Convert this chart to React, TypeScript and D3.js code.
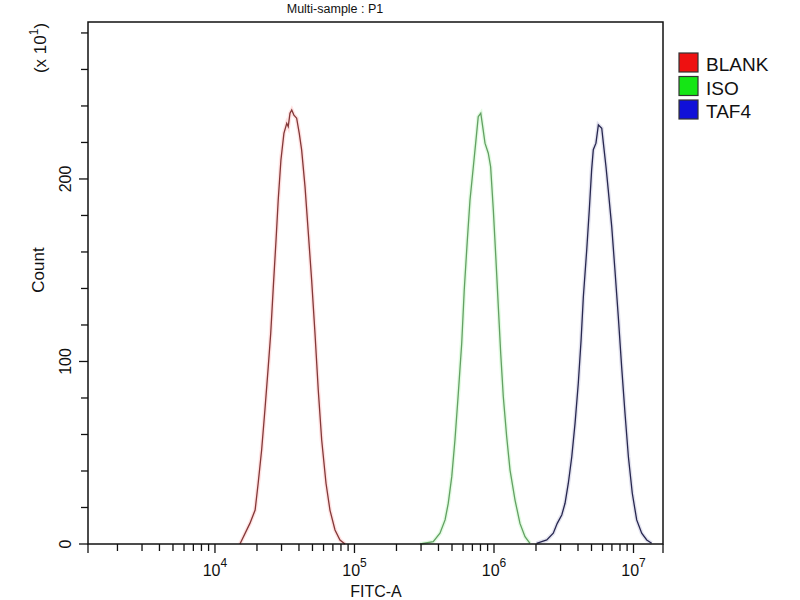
import React from "react";
import * as d3 from "d3";

// ---- Data ----
const seriesNames = ["BLANK", "ISO", "TAF4"];

const blankX = [15100, 17800, 19400, 20400, 21600, 22800, 24100, 25100, 26200, 27400, 28400, 29700, 31200, 32700, 33500, 34500, 35500, 36800, 38500, 40200, 41800, 44200, 46700, 49300, 52100, 55000, 58200, 62500, 66700, 72500, 78700, 85500];
const blankCount = [0, 11.3, 18.6, 33.3, 51.5, 73.4, 97.2, 115.5, 141, 166.6, 188.5, 210.4, 225, 230.5, 228.7, 236, 237.8, 235, 233.3, 225, 215.9, 195.8, 170.2, 144.7, 115.5, 84.4, 57, 33.3, 18.6, 7.7, 2.2, 0];

const isoX = [295000, 367000, 410000, 446000, 470000, 498000, 525000, 555000, 587000, 612000, 644000, 673000, 711000, 743000, 771000, 804000, 830000, 862000, 910000, 946000, 989000, 1033000, 1074000, 1117000, 1166000, 1233000, 1303000, 1415000, 1535000, 1668000, 1811000];
const isoCount = [0, 1.3, 5.9, 13.2, 22.3, 36.9, 57, 82.6, 110, 139.2, 166.6, 188.5, 206.7, 221.4, 234.1, 236, 228.7, 219.6, 214.1, 206.7, 183, 155.6, 130, 104.5, 80.7, 58.8, 40.5, 24.1, 11.3, 4, 0.4];

const tafX = [2020000, 2390000, 2660000, 2840000, 3060000, 3230000, 3410000, 3610000, 3810000, 4020000, 4210000, 4370000, 4620000, 4820000, 5010000, 5150000, 5380000, 5600000, 5920000, 6080000, 6350000, 6590000, 6980000, 7360000, 7780000, 8220000, 8690000, 9190000, 9800000, 10540000, 11450000, 12440000, 13490000];
const tafCount = [0.4, 2.2, 5.9, 11.3, 15.9, 22.3, 33.3, 47.8, 66.1, 88.1, 111.8, 135.5, 161.1, 183, 205, 216, 219.6, 229.6, 227.8, 219.6, 206.7, 194, 173.9, 150.1, 124.5, 97.2, 71.6, 47.8, 27.8, 13.2, 5.9, 2.2, 0.4];

const xMajorTicks = [1e4, 1e5, 1e6, 1e7];
const xMajorExponents = ["4", "5", "6", "7"];
const yTickValues = [0, 20, 40, 60, 80, 100, 120, 140, 160, 180, 200, 220, 240, 260, 280];
const yTickLabels = ["0", "100", "200"];
const xDomain = [1230, 16270000];
const yDomain = [0, 286];

const lineColors = ["#833838", "#63a063", "#27274f"];
const haloColors = ["#ff8a8a", "#8cf08c", "#9090c0"];
const legendColors = ["#ee1111", "#15e615", "#1010d8"];

const FONT = "'Liberation Sans', Arial, sans-serif";

export default function App() {
  const left = 88, right = 663, top = 22, bottom = 544;
  const x = d3.scaleLog().domain(xDomain).range([left, right]);
  const y = d3.scaleLinear().domain(yDomain).range([bottom, top]);

  const minorTicks: number[] = [];
  for (let e = 3; e <= 7; e++) {
    for (let k = 2; k <= 9; k++) {
      const v = k * Math.pow(10, e);
      if (v > xDomain[0] && v < xDomain[1]) minorTicks.push(v);
    }
  }

  const series = [
    { xs: blankX, ys: blankCount },
    { xs: isoX, ys: isoCount },
    { xs: tafX, ys: tafCount },
  ];
  const line = d3
    .line<[number, number]>()
    .x((d) => x(d[0]))
    .y((d) => y(d[1]))
    .curve(d3.curveLinear);

  return (
    <svg
      width={800}
      height={600}
      style={{ position: "absolute", left: 0, top: 0, background: "#fff" }}
      fontFamily={FONT}
    >
      <rect x={0} y={0} width={800} height={600} fill="#fff" />
      {/* title */}
      <text x={335} y={13} fontSize={12.5} textAnchor="middle" fill="#111">
        Multi-sample : P1
      </text>

      {/* curves */}
      {series.map((s, i) => {
        const pts = s.xs.map((v, j) => [v, s.ys[j]] as [number, number]);
        const d = line(pts) || "";
        return (
          <g key={i}>
            <path d={d} fill="none" stroke={haloColors[i]} strokeOpacity={0.25} strokeWidth={4} />
            <path d={d} fill="none" stroke={lineColors[i]} strokeWidth={1.3} />
          </g>
        );
      })}

      {/* frame */}
      <rect x={left} y={top} width={right - left} height={bottom - top} fill="none" stroke="#111" strokeWidth={1.5} />

      {/* y ticks */}
      {yTickValues.map((v) => (
        <line key={"yt" + v} x1={left - (v % 100 === 0 ? 9 : 7)} x2={left} y1={y(v)} y2={y(v)} stroke="#111" strokeWidth={1.3} />
      ))}
      {yTickLabels.map((t) => (
        <text
          key={"yl" + t}
          transform={`translate(70.5,${y(+t)}) rotate(-90)`}
          fontSize={16}
          textAnchor="middle"
          fill="#111"
        >
          {t}
        </text>
      ))}

      {/* x ticks */}
      {[xDomain[0], xDomain[1]].map((v, i) => (
        <line key={"xe" + i} x1={x(v)} x2={x(v)} y1={bottom} y2={bottom + 9} stroke="#111" strokeWidth={1.3} />
      ))}
      {minorTicks.map((v) => (
        <line key={"xm" + v} x1={x(v)} x2={x(v)} y1={bottom} y2={bottom + 7} stroke="#111" strokeWidth={1.3} />
      ))}
      {xMajorTicks.map((v, i) => (
        <g key={"xM" + v}>
          <line x1={x(v)} x2={x(v)} y1={bottom} y2={bottom + 9} stroke="#111" strokeWidth={1.3} />
          <text x={x(v)} y={576} fontSize={16} textAnchor="middle" fill="#111">
            10
            <tspan fontSize={12} dy={-9}>
              {xMajorExponents[i]}
            </tspan>
          </text>
        </g>
      ))}

      {/* axis titles */}
      <text x={376} y={597} fontSize={16} textAnchor="middle" fill="#111">
        FITC-A
      </text>
      <text transform="translate(44,270) rotate(-90)" fontSize={17} textAnchor="middle" fill="#111">
        Count
      </text>
      <text transform="translate(46,48) rotate(-90)" fontSize={17} textAnchor="middle" fill="#111">
        (x 10
        <tspan fontSize={12} dy={-8}>1</tspan>
        <tspan dy={8}>)</tspan>
      </text>

      {/* legend */}
      {seriesNames.map((n, i) => (
        <g key={n} transform={`translate(679,${53 + i * 23.5})`}>
          <rect x={0} y={0} width={19} height={19} fill={legendColors[i]} stroke="#333" strokeWidth={1.2} />
          <text x={27} y={18} fontSize={19} fill="#111">
            {n}
          </text>
        </g>
      ))}
    </svg>
  );
}
